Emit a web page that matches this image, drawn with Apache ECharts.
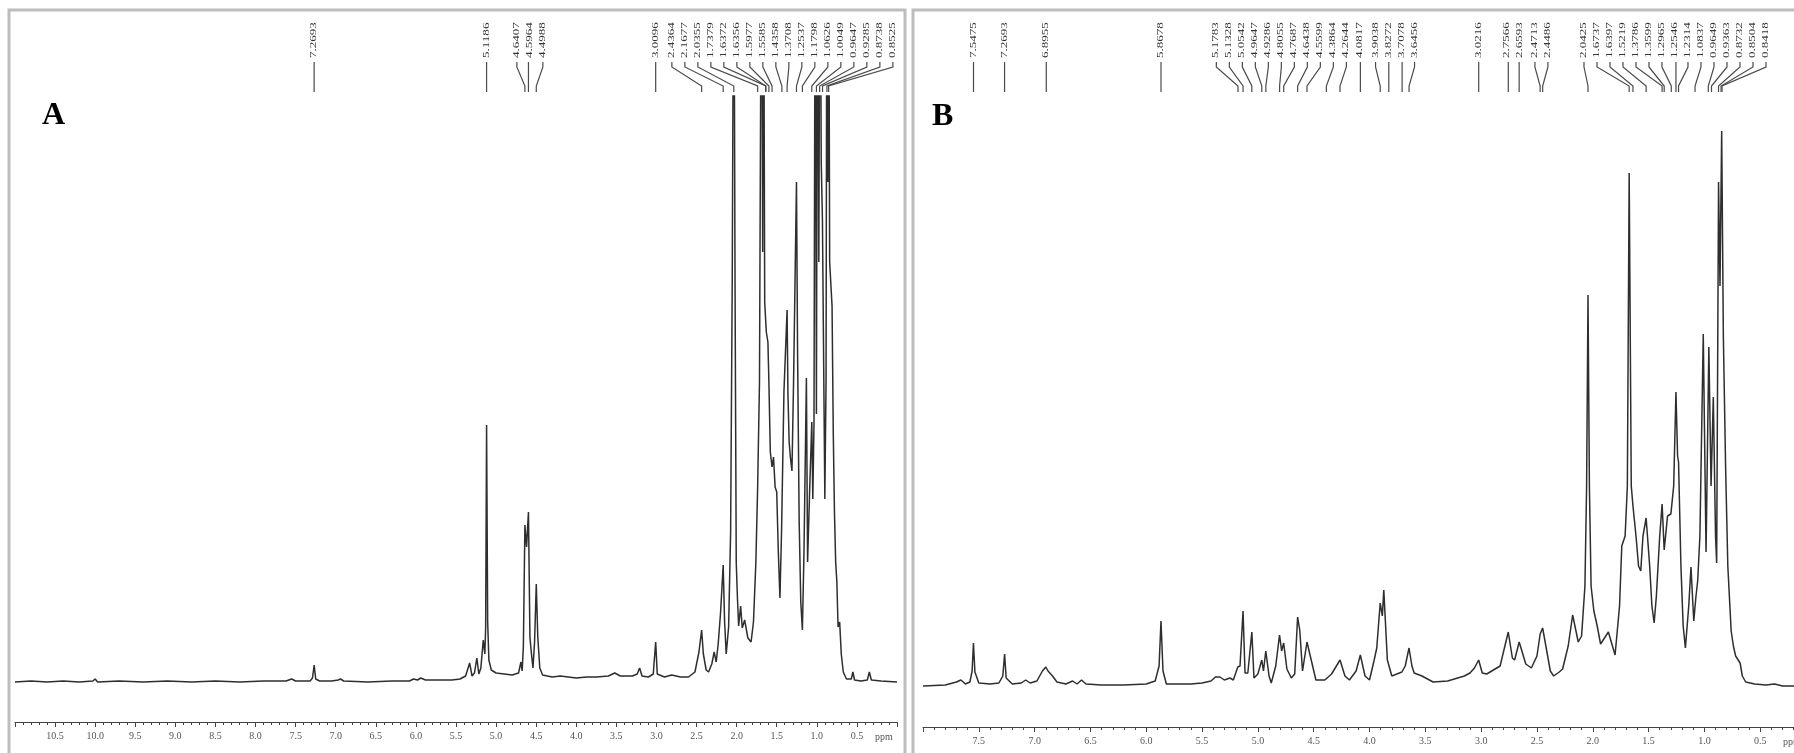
<!DOCTYPE html>
<html>
<head>
<meta charset="utf-8">
<title>1H NMR spectra A / B</title>
<script src="https://cdn.jsdelivr.net/npm/echarts@6/dist/echarts.min.js"></script>
<style>
  html, body { margin: 0; padding: 0; background: #fff; overflow: hidden; }
  #chart { width: 1830px; height: 753px; }
</style>
</head>
<body>
<div id="chart"></div>
<script>
// spectrum A : [ppm, intensity]
const spectrumA = [
  [11.0,0],[10.8,1],[10.6,0],[10.4,1],[10.2,0],[10.03,1],[10.0,3],[9.97,0],[9.7,1],[9.4,0],[9.1,1],[8.8,0],[8.5,1],[8.2,0],[7.9,1],
  [7.62,1],[7.55,3],[7.5,1],[7.32,1],[7.29,4],[7.269,17],[7.25,3],[7.2,1],[7.05,1],[6.97,2],[6.94,3],[6.9,1],[6.6,0],[6.3,1],
  [6.08,1],[6.03,3],[5.98,2],[5.94,4],[5.88,2],[5.7,2],[5.55,2],[5.45,3],[5.38,6],[5.33,19],[5.3,6],[5.27,9],[5.24,24],[5.215,8],
  [5.19,14],[5.16,42],[5.14,28],[5.13,55],[5.1186,257],[5.105,60],[5.09,22],[5.06,12],[5.0,9],[4.9,8],[4.8,7],[4.72,9],[4.69,20],
  [4.675,11],[4.66,35],[4.6407,157],[4.62,135],[4.5964,170],[4.578,45],[4.56,29],[4.54,14],[4.52,40],[4.4988,98],[4.48,45],
  [4.455,14],[4.42,7],[4.3,5],[4.2,6],[4.1,5],[4.08,6],[4.0,4],[3.87,5],[3.75,5],[3.6,6],[3.52,9],[3.45,6],[3.3,6],[3.24,8],
  [3.21,14],[3.18,6],[3.1,5],[3.04,8],[3.0096,40],[2.99,8],[2.9,5],[2.81,7],[2.7,5],[2.6,5],[2.52,10],[2.47,30],[2.4364,52],
  [2.415,28],[2.38,12],[2.35,10],[2.31,18],[2.28,30],[2.255,20],[2.23,38],[2.2,70],[2.1677,117],[2.15,60],[2.13,28],[2.1,55],
  [2.075,150],[2.055,400],[2.0355,800],[2.02,400],[2.005,120],[1.99,84],[1.975,56],[1.95,76],[1.93,54],[1.9,62],[1.86,44],
  [1.82,40],[1.79,60],[1.76,120],[1.7379,195],[1.715,300],[1.69,800],[1.675,430],[1.665,800],[1.65,380],[1.63,350],[1.61,340],
  [1.5977,300],[1.58,230],[1.5585,215],[1.54,225],[1.52,195],[1.5,190],[1.48,130],[1.46,84],[1.44,150],[1.41,290],[1.3708,372],
  [1.36,287],[1.345,240],[1.33,225],[1.31,211],[1.29,300],[1.2537,500],[1.24,330],[1.22,160],[1.2,80],[1.18,52],[1.16,130],
  [1.13,304],[1.115,120],[1.09,190],[1.0626,260],[1.05,183],[1.035,260],[1.02,800],[1.005,268],[0.99,800],[0.975,420],
  [0.96,800],[0.945,520],[0.93,462],[0.9,183],[0.885,300],[0.8738,800],[0.862,500],[0.8525,800],[0.84,420],[0.81,376],
  [0.795,250],[0.78,170],[0.765,120],[0.75,100],[0.735,55],[0.715,60],[0.695,28],[0.67,10],[0.63,3],[0.57,3],[0.55,10],
  [0.53,2],[0.45,1],[0.37,2],[0.345,10],[0.32,2],[0.2,1],[0.0,0]
]

// spectrum B : [ppm, intensity]
const spectrumB = [
  [8.0,0],[7.8,1],[7.7,4],[7.66,6],[7.62,2],[7.58,4],[7.56,15],[7.548,43],[7.535,14],[7.5,3],[7.4,2],[7.32,3],[7.285,10],
  [7.269,32],[7.255,8],[7.2,2],[7.12,3],[7.08,6],[7.04,3],[6.98,5],[6.93,15],[6.9,19],[6.88,15],[6.84,10],[6.8,4],[6.72,2],
  [6.66,5],[6.62,2],[6.58,6],[6.54,2],[6.4,1],[6.2,1],[6.0,2],[5.92,5],[5.885,20],[5.868,65],[5.85,15],[5.82,2],[5.6,2],
  [5.5,3],[5.42,5],[5.38,9],[5.34,9],[5.3,6],[5.25,8],[5.22,6],[5.18,19],[5.16,20],[5.133,75],[5.115,13],[5.09,13],[5.054,54],
  [5.035,8],[5.0,12],[4.965,26],[4.95,15],[4.929,35],[4.9,10],[4.88,3],[4.84,20],[4.806,51],[4.787,35],[4.769,43],[4.74,17],
  [4.7,8],[4.67,12],[4.644,69],[4.625,56],[4.6,15],[4.56,44],[4.52,25],[4.48,6],[4.4,6],[4.34,12],[4.264,26],[4.22,10],
  [4.18,6],[4.12,15],[4.082,31],[4.04,10],[4.0,6],[3.96,25],[3.935,38],[3.904,83],[3.885,70],[3.872,96],[3.84,26],[3.8,10],
  [3.79,8],[3.71,14],[3.68,20],[3.646,38],[3.62,20],[3.6,13],[3.53,10],[3.43,4],[3.3,5],[3.21,8],[3.15,10],[3.1,13],[3.06,18],
  [3.022,26],[2.99,13],[2.95,12],[2.86,18],[2.83,20],[2.757,54],[2.72,28],[2.7,26],[2.659,44],[2.6,22],[2.55,18],[2.5,30],
  [2.471,52],[2.449,58],[2.42,40],[2.38,15],[2.35,10],[2.3,14],[2.27,17],[2.22,40],[2.18,71],[2.13,44],[2.1,50],[2.07,100],
  [2.055,200],[2.0425,391],[2.03,200],[2.015,100],[1.99,75],[1.96,60],[1.93,42],[1.86,54],[1.8,31],[1.76,80],[1.74,140],
  [1.71,150],[1.69,200],[1.6737,513],[1.655,200],[1.6397,180],[1.61,147],[1.59,120],[1.57,115],[1.55,150],[1.5219,168],
  [1.49,120],[1.47,80],[1.45,63],[1.43,90],[1.4,150],[1.3786,182],[1.3599,136],[1.33,170],[1.3,172],[1.275,200],[1.2546,294],
  [1.24,230],[1.2314,224],[1.21,120],[1.19,60],[1.17,38],[1.14,80],[1.12,119],[1.095,65],[1.075,90],[1.06,105],[1.04,150],
  [1.01,352],[0.985,134],[0.96,339],[0.94,200],[0.92,289],[0.9,150],[0.89,123],[0.873,504],[0.86,400],[0.845,555],[0.83,350],
  [0.81,220],[0.79,120],[0.76,55],[0.74,40],[0.72,30],[0.68,23],[0.66,10],[0.63,4],[0.55,2],[0.45,1],[0.37,2],[0.3,0],[0.0,0]
]

// picked peaks (ppm)
const peakLabelsA = ['7.2693','5.1186','4.6407','4.5964','4.4988','3.0096','2.4364','2.1677','2.0355','1.7379','1.6372',
  '1.6356','1.5977','1.5585','1.4358','1.3708','1.2537','1.1798','1.0626','1.0049','0.9647','0.9285','0.8738','0.8525']
const peakLabelsB = ['7.5475','7.2693','6.8955','5.8678','5.1783','5.1328','5.0542','4.9647','4.9286','4.8055','4.7687',
  '4.6438','4.5599','4.3864','4.2644','4.0817','3.9038','3.8272','3.7078','3.6456','3.0216','2.7566','2.6593','2.4713',
  '2.4486','2.0425','1.6737','1.6397','1.5219','1.3786','1.3599','1.2965','1.2546','1.2314','1.0837','0.9649','0.9363',
  '0.8732','0.8504','0.8418']

const ppmRangeA = [0, 11]
const ppmRangeB = [0, 8]
const tickStep = 0.5

const chart = echarts.init(document.getElementById('chart'))

const axisColor = '#444'
const xAxisBase = (gridIndex, range) => ({
  type: 'value',
  gridIndex,
  inverse: true,
  min: range[0],
  max: range[1],
  interval: tickStep,
  splitLine: { show: false },
  axisLine: { onZero: false, lineStyle: { color: axisColor, width: 1 } },
  axisTick: { length: 5, lineStyle: { color: axisColor } },
  minorTick: { show: true, splitNumber: 5, length: 3, lineStyle: { color: axisColor } },
  axisLabel: {
    color: '#555',
    fontFamily: 'Liberation Serif',
    fontSize: 10,
    margin: 9,
    showMinLabel: false,
    showMaxLabel: false,
    formatter: (v) => v.toFixed(1)
  }
})

const lineSeries = (idx, data) => ({
  type: 'line',
  xAxisIndex: idx,
  yAxisIndex: idx,
  data,
  symbol: 'none',
  clip: true,
  lineStyle: { color: '#2e2e2e', width: 1.5 }
})

chart.setOption({
  animation: false,
  grid: [
    { left: 15, top: 96, width: 882, height: 626 },
    { left: 923, top: 96, width: 893, height: 631 }
  ],
  xAxis: [xAxisBase(0, ppmRangeA), xAxisBase(1, ppmRangeB)],
  yAxis: [
    { type: 'value', gridIndex: 0, show: false, min: -40, max: 586 },
    { type: 'value', gridIndex: 1, show: false, min: -41, max: 590 }
  ],
  series: [lineSeries(0, spectrumA), lineSeries(1, spectrumB)]
})

// spread crowded labels apart, keeping each cluster centred on its peaks
function spreadLabels(xs, gap) {
  let groups = xs.map((x) => ({ n: 1, sum: x, start: x }))
  let changed = true
  while (changed) {
    changed = false
    for (let i = 0; i < groups.length - 1; i++) {
      const a = groups[i], b = groups[i + 1]
      if (a.start + a.n * gap > b.start) {
        const n = a.n + b.n, sum = a.sum + b.sum
        groups.splice(i, 2, { n, sum, start: sum / n - (n - 1) * gap / 2 })
        changed = true
        break
      }
    }
  }
  const out = []
  groups.forEach((g) => { for (let k = 0; k < g.n; k++) out.push(g.start + k * gap) })
  return out
}

function peakLabelGraphics(labels, gridIndex) {
  const px = labels.map((v) => chart.convertToPixel({ gridIndex }, [parseFloat(v), 0])[0])
  const lx = spreadLabels(px, 13)
  const els = []
  labels.forEach((v, i) => {
    const a = lx[i], b = px[i]
    const pts = Math.abs(a - b) < 1.5 ? [[b, 62], [b, 92]] : [[a, 62], [a, 67], [b, 86], [b, 92]]
    els.push({
      type: 'polyline', silent: true,
      shape: { points: pts },
      style: { stroke: '#4a4a4a', lineWidth: 1.2, fill: null }
    })
    els.push({
      type: 'text', silent: true,
      x: a, y: 58, rotation: Math.PI / 2, scaleX: 1.45, scaleY: 0.85,
      style: { text: v, font: '9px "Liberation Serif"', fill: '#333', align: 'left', verticalAlign: 'middle' }
    })
  })
  return els
}

const frameStyle = { stroke: '#bdbdbd', lineWidth: 3, fill: null }
chart.setOption({
  graphic: [
    { type: 'rect', silent: true, shape: { x: 9, y: 10, width: 896, height: 780 }, style: frameStyle },
    { type: 'rect', silent: true, shape: { x: 913, y: 10, width: 920, height: 780 }, style: frameStyle },
    { type: 'text', silent: true, x: 42, y: 116, style: { text: 'A', font: 'bold 32px "Liberation Serif"', fill: '#000', verticalAlign: 'middle' } },
    { type: 'text', silent: true, x: 932, y: 117, style: { text: 'B', font: 'bold 32px "Liberation Serif"', fill: '#000', verticalAlign: 'middle' } },
    { type: 'text', silent: true, x: 875, y: 737, style: { text: 'ppm', font: '10px "Liberation Serif"', fill: '#555', verticalAlign: 'middle' } },
    { type: 'text', silent: true, x: 1783, y: 742, style: { text: 'ppm', font: '10px "Liberation Serif"', fill: '#555', verticalAlign: 'middle' } },
    ...peakLabelGraphics(peakLabelsA, 0),
    ...peakLabelGraphics(peakLabelsB, 1)
  ]
})

window.addEventListener('resize', () => chart.resize())
</script>
</body>
</html>
